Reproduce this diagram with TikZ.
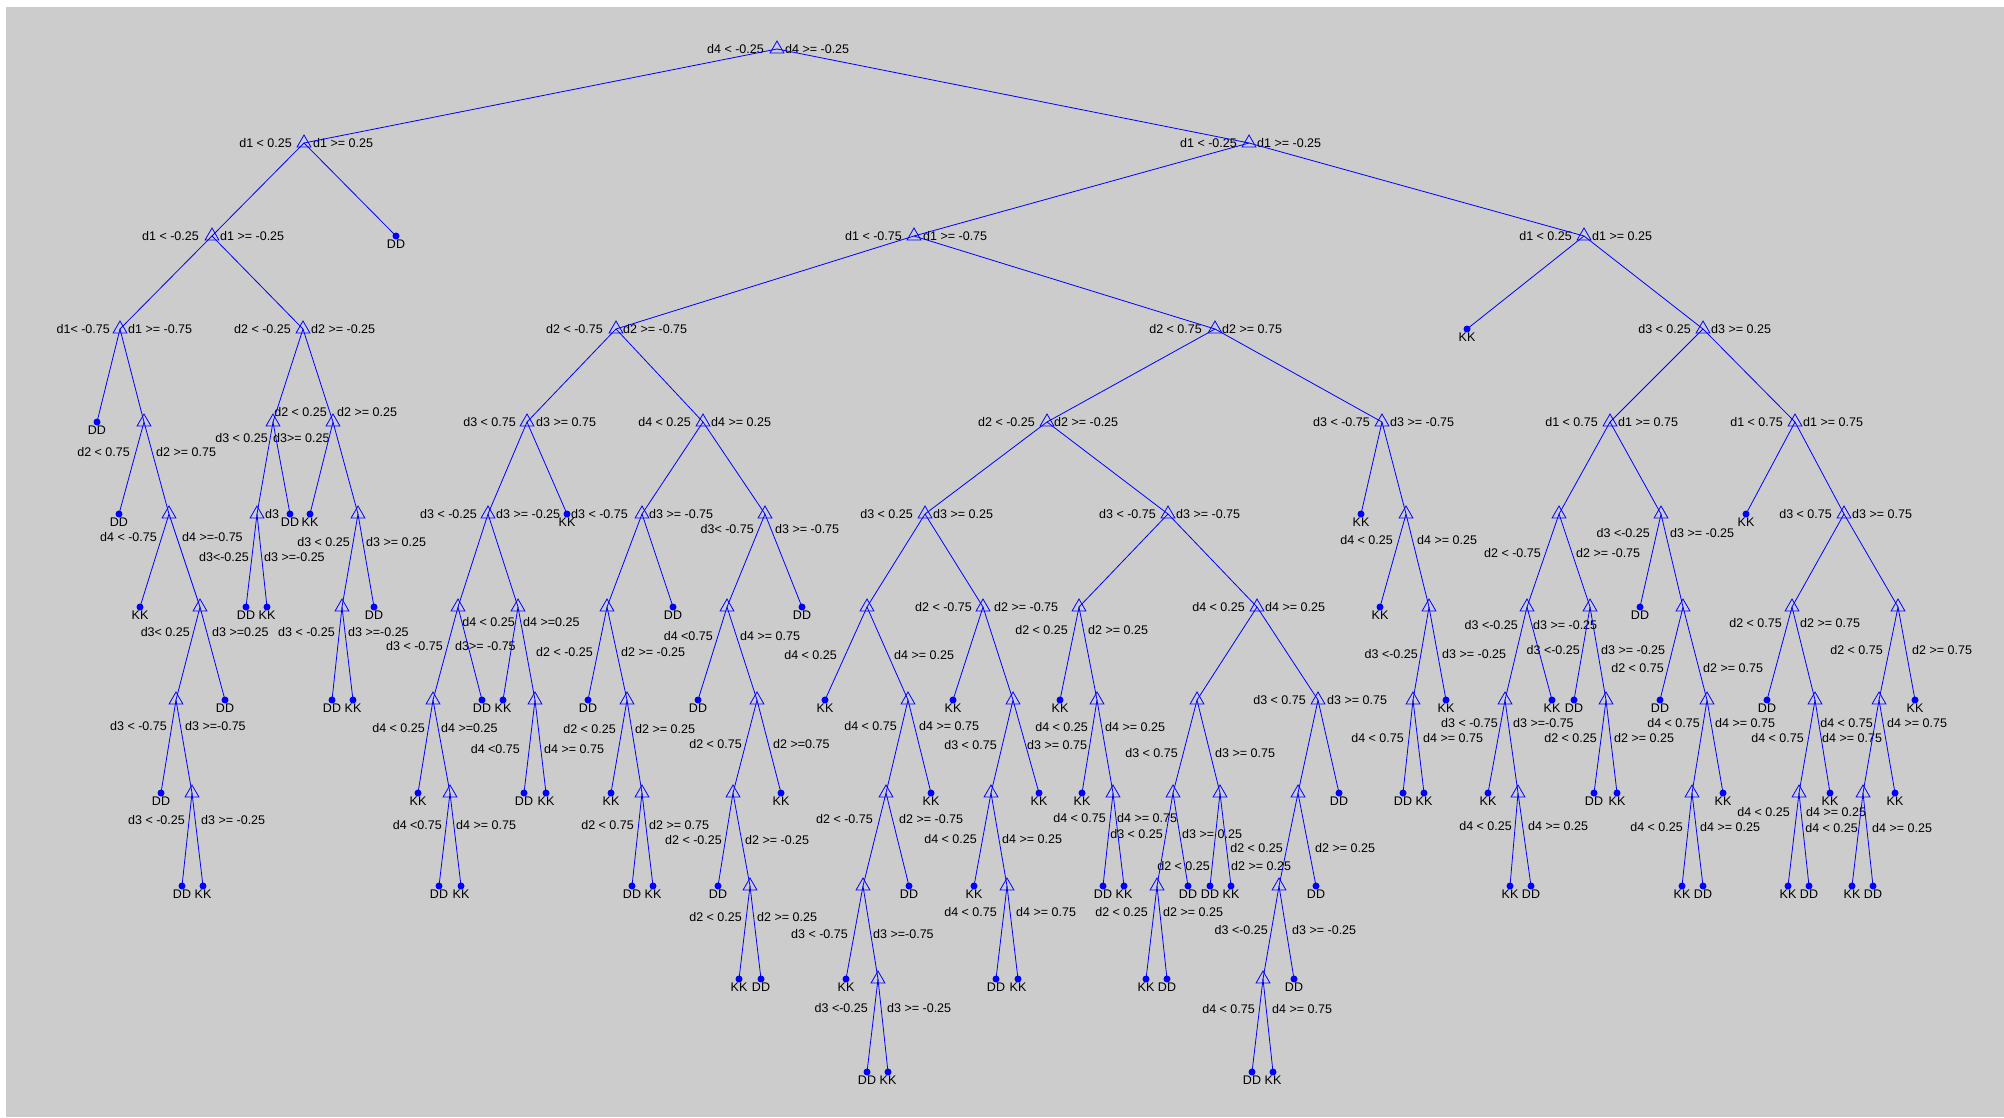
\documentclass[tikz,border=0pt]{standalone}
\usepackage{fontspec}
\setmainfont{Liberation Sans}
\usetikzlibrary{shapes.geometric}
\definecolor{panel}{RGB}{204,204,204}

\begin{document}
\begin{tikzpicture}[x=1pt, y=-1pt,
    split/.style={regular polygon, regular polygon sides=3, draw=blue, line width=0.8pt, minimum size=16pt, inner sep=0pt},
    leaf/.style={circle, fill=blue, minimum size=7pt, inner sep=0pt},
    cond/.style={font=\fontsize{12.5}{14}\selectfont, inner sep=0pt, text height=9pt, text depth=0pt},
    link/.style={blue, line width=0.8pt}]
\useasboundingbox (0,0) rectangle (2004,1117);
\fill[white] (0,0) rectangle (2004,1117);
\fill[panel] (6,7) rectangle (2004,1117);

% Nodes
\node[split] (r) at (777,49) {};
\node[cond, anchor=east] (rlt) at (764,49) {d4 < -0.25};
\node[cond, anchor=west] (rge) at (785,49) {d4 >= -0.25};

\node[split] (a) at (304,143) {};
\node[cond, anchor=east] (alt) at (292,143) {d1 < 0.25};
\node[cond, anchor=west] (age) at (313,143) {d1 >= 0.25};
\node[split] (b) at (1249,143) {};
\node[cond, anchor=east] (blt) at (1237,143) {d1 < -0.25};
\node[cond, anchor=west] (bge) at (1257,143) {d1 >= -0.25};

\node[split] (a1) at (212,236) {};
\node[cond, anchor=east] (a1lt) at (199,236) {d1 < -0.25};
\node[cond, anchor=west] (a1ge) at (220,236) {d1 >= -0.25};
\node[leaf, label={[cond, name=arc]below:DD}] (ar) at (396,236) {};
\node[split] (c) at (914,236) {};
\node[cond, anchor=east] (clt) at (902,236) {d1 < -0.75};
\node[cond, anchor=west] (cge) at (923,236) {d1 >= -0.75};
\node[split] (d) at (1584,236) {};
\node[cond, anchor=east] (dlt) at (1572,236) {d1 < 0.25};
\node[cond, anchor=west] (dge) at (1592,236) {d1 >= 0.25};

\node[split] (a11) at (120,329) {};
\node[cond, anchor=east] (a11lt) at (110,329) {d1< -0.75};
\node[cond, anchor=west] (a11ge) at (128,329) {d1 >= -0.75};
\node[split] (a12) at (303,329) {};
\node[cond, anchor=east] (a12lt) at (291,329) {d2 < -0.25};
\node[cond, anchor=west] (a12ge) at (311,329) {d2 >= -0.25};
\node[split] (c1) at (616,329) {};
\node[cond, anchor=east] (c1lt) at (603,329) {d2 < -0.75};
\node[cond, anchor=west] (c1ge) at (623,329) {d2 >= -0.75};
\node[split] (c2) at (1215,329) {};
\node[cond, anchor=east] (c2lt) at (1202,329) {d2 < 0.75};
\node[cond, anchor=west] (c2ge) at (1222,329) {d2 >= 0.75};
\node[leaf, label={[cond, name=dlc]below:KK}] (dl) at (1467,329) {};
\node[split] (d1) at (1703,329) {};
\node[cond, anchor=east] (d1lt) at (1691,329) {d3 < 0.25};
\node[cond, anchor=west] (d1ge) at (1711,329) {d3 >= 0.25};

\node[leaf, label={[cond, name=a11lc]below:DD}] (a11l) at (97,422) {};
\node[split] (n1) at (144,422) {};
\node[cond, anchor=east] (n1lt) at (130,452) {d2 < 0.75};
\node[cond, anchor=west] (n1ge) at (156,452) {d2 >= 0.75};
\node[split] (m1) at (273,422) {};
\node[cond, anchor=east] (m1lt) at (268,438) {d3 < 0.25};
\node[cond, anchor=west] (m1ge) at (273,438) {d3>= 0.25};
\node[split] (m2) at (333,422) {};
\node[cond, anchor=east] (m2lt) at (327,412) {d2 < 0.25};
\node[cond, anchor=west] (m2ge) at (337,412) {d2 >= 0.25};
\node[split] (e) at (527,422) {};
\node[cond, anchor=east] (elt) at (516,422) {d3 < 0.75};
\node[cond, anchor=west] (ege) at (536,422) {d3 >= 0.75};
\node[split] (f) at (703,422) {};
\node[cond, anchor=east] (flt) at (691,422) {d4 < 0.25};
\node[cond, anchor=west] (fge) at (711,422) {d4 >= 0.25};
\node[split] (g) at (1047,422) {};
\node[cond, anchor=east] (glt) at (1035,422) {d2 < -0.25};
\node[cond, anchor=west] (gge) at (1054,422) {d2 >= -0.25};
\node[split] (h) at (1382,422) {};
\node[cond, anchor=east] (hlt) at (1370,422) {d3 < -0.75};
\node[cond, anchor=west] (hge) at (1390,422) {d3 >= -0.75};
\node[split] (d2) at (1610,422) {};
\node[cond, anchor=east] (d2lt) at (1598,422) {d1 < 0.75};
\node[cond, anchor=west] (d2ge) at (1618,422) {d1 >= 0.75};
\node[split] (d3) at (1795,422) {};
\node[cond, anchor=east] (d3lt) at (1783,422) {d1 < 0.75};
\node[cond, anchor=west] (d3ge) at (1803,422) {d1 >= 0.75};

\node[leaf, label={[cond, name=n1lc]below:DD}] (n1l) at (119,514) {};
\node[split] (n2) at (169,514) {};
\node[cond, anchor=east] (n2lt) at (157,537) {d4 < -0.75};
\node[cond, anchor=west] (n2ge) at (182,537) {d4 >=-0.75};
\node[split] (m3) at (257,514) {};
\node[cond, anchor=east] (m3lt) at (249,557) {d3<-0.25};
\node[cond, anchor=west] (m3ge) at (264,557) {d3 >=-0.25};
\node[cond, anchor=west] (m3x) at (265,514) {d3};
\node[leaf, label={[cond, name=m1rc]below:DD}] (m1r) at (290,514) {};
\node[leaf, label={[cond, name=m2lc]below:KK}] (m2l) at (310,514) {};
\node[split] (m4) at (358,514) {};
\node[cond, anchor=east] (m4lt) at (350,542) {d3 < 0.25};
\node[cond, anchor=west] (m4ge) at (366,542) {d3 >= 0.25};
\node[split] (e1) at (488,514) {};
\node[cond, anchor=east] (e1lt) at (477,514) {d3 < -0.25};
\node[cond, anchor=west] (e1ge) at (496,514) {d3 >= -0.25};
\node[leaf, label={[cond, name=erc]below:KK}] (er) at (567,514) {};
\node[split] (f1) at (642,514) {};
\node[cond, anchor=east] (f1lt) at (628,514) {d3 < -0.75};
\node[cond, anchor=west] (f1ge) at (649,514) {d3 >= -0.75};
\node[split] (f5) at (765,514) {};
\node[cond, anchor=east] (f5lt) at (754,529) {d3< -0.75};
\node[cond, anchor=west] (f5ge) at (775,529) {d3 >= -0.75};
\node[split] (g1) at (925,514) {};
\node[cond, anchor=east] (g1lt) at (913,514) {d3 < 0.25};
\node[cond, anchor=west] (g1ge) at (933,514) {d3 >= 0.25};
\node[split] (g2) at (1168,514) {};
\node[cond, anchor=east] (g2lt) at (1156,514) {d3 < -0.75};
\node[cond, anchor=west] (g2ge) at (1176,514) {d3 >= -0.75};
\node[leaf, label={[cond, name=hlc]below:KK}] (hl) at (1361,514) {};
\node[split] (h1) at (1406,514) {};
\node[cond, anchor=east] (h1lt) at (1393,540) {d4 < 0.25};
\node[cond, anchor=west] (h1ge) at (1417,540) {d4 >= 0.25};
\node[split] (d4) at (1559,514) {};
\node[cond, anchor=east] (d4lt) at (1541,553) {d2 < -0.75};
\node[cond, anchor=west] (d4ge) at (1576,553) {d2 >= -0.75};
\node[split] (d5) at (1661,514) {};
\node[cond, anchor=east] (d5lt) at (1650,533) {d3 <-0.25};
\node[cond, anchor=west] (d5ge) at (1670,533) {d3 >= -0.25};
\node[leaf, label={[cond, name=d3lc]below:KK}] (d3l) at (1746,514) {};
\node[split] (d12) at (1844,514) {};
\node[cond, anchor=east] (d12lt) at (1832,514) {d3 < 0.75};
\node[cond, anchor=west] (d12ge) at (1852,514) {d3 >= 0.75};

\node[leaf, label={[cond, name=n2lc]below:KK}] (n2l) at (140,607) {};
\node[split] (n3) at (200,607) {};
\node[cond, anchor=east] (n3lt) at (190,632) {d3< 0.25};
\node[cond, anchor=west] (n3ge) at (212,632) {d3 >=0.25};
\node[leaf, label={[cond, name=m3lc]below:DD}] (m3l) at (246,607) {};
\node[leaf, label={[cond, name=m3rc]below:KK}] (m3r) at (267,607) {};
\node[split] (m5) at (342,607) {};
\node[cond, anchor=east] (m5lt) at (335,632) {d3 < -0.25};
\node[cond, anchor=west] (m5ge) at (348,632) {d3 >=-0.25};
\node[leaf, label={[cond, name=m4rc]below:DD}] (m4r) at (374,607) {};
\node[split] (e2) at (458,607) {};
\node[cond, anchor=east] (e2lt) at (443,646) {d3 < -0.75};
\node[cond, anchor=west] (e2ge) at (455,646) {d3>= -0.75};
\node[split] (e3) at (518,607) {};
\node[cond, anchor=east] (e3lt) at (515,622) {d4 < 0.25};
\node[cond, anchor=west] (e3ge) at (523,622) {d4 >=0.25};
\node[split] (f2) at (607,607) {};
\node[cond, anchor=east] (f2lt) at (593,652) {d2 < -0.25};
\node[cond, anchor=west] (f2ge) at (621,652) {d2 >= -0.25};
\node[leaf, label={[cond, name=f1rc]below:DD}] (f1r) at (673,607) {};
\node[split] (f6) at (727,607) {};
\node[cond, anchor=east] (f6lt) at (713,636) {d4 <0.75};
\node[cond, anchor=west] (f6ge) at (740,636) {d4 >= 0.75};
\node[leaf, label={[cond, name=f5rc]below:DD}] (f5r) at (802,607) {};
\node[split] (g3) at (867,607) {};
\node[cond, anchor=east] (g3lt) at (837,655) {d4 < 0.25};
\node[cond, anchor=west] (g3ge) at (894,655) {d4 >= 0.25};
\node[split] (g4) at (983,607) {};
\node[cond, anchor=east] (g4lt) at (972,607) {d2 < -0.75};
\node[cond, anchor=west] (g4ge) at (994,607) {d2 >= -0.75};
\node[split] (g7) at (1079,607) {};
\node[cond, anchor=east] (g7lt) at (1068,630) {d2 < 0.25};
\node[cond, anchor=west] (g7ge) at (1088,630) {d2 >= 0.25};
\node[split] (g11) at (1257,607) {};
\node[cond, anchor=east] (g11lt) at (1245,607) {d4 < 0.25};
\node[cond, anchor=west] (g11ge) at (1265,607) {d4 >= 0.25};
\node[leaf, label={[cond, name=h1lc]below:KK}] (h1l) at (1380,607) {};
\node[split] (h2) at (1429,607) {};
\node[cond, anchor=east] (h2lt) at (1418,654) {d3 <-0.25};
\node[cond, anchor=west] (h2ge) at (1442,654) {d3 >= -0.25};
\node[split] (d6) at (1527,607) {};
\node[cond, anchor=east] (d6lt) at (1518,625) {d3 <-0.25};
\node[cond, anchor=west] (d6ge) at (1533,625) {d3 >= -0.25};
\node[split] (d7) at (1590,607) {};
\node[cond, anchor=east] (d7lt) at (1580,650) {d3 <-0.25};
\node[cond, anchor=west] (d7ge) at (1601,650) {d3 >= -0.25};
\node[leaf, label={[cond, name=d5lc]below:DD}] (d5l) at (1640,607) {};
\node[split] (d10) at (1683,607) {};
\node[cond, anchor=east] (d10lt) at (1664,668) {d2 < 0.75};
\node[cond, anchor=west] (d10ge) at (1703,668) {d2 >= 0.75};
\node[split] (d13) at (1792,607) {};
\node[cond, anchor=east] (d13lt) at (1782,623) {d2 < 0.75};
\node[cond, anchor=west] (d13ge) at (1800,623) {d2 >= 0.75};
\node[split] (d16) at (1898,607) {};
\node[cond, anchor=east] (d16lt) at (1883,650) {d2 < 0.75};
\node[cond, anchor=west] (d16ge) at (1912,650) {d2 >= 0.75};

\node[split] (n4) at (176,700) {};
\node[cond, anchor=east] (n4lt) at (167,726) {d3 < -0.75};
\node[cond, anchor=west] (n4ge) at (185,726) {d3 >=-0.75};
\node[leaf, label={[cond, name=n3rc]below:DD}] (n3r) at (225,700) {};
\node[leaf, label={[cond, name=m5lc]below:DD}] (m5l) at (332,700) {};
\node[leaf, label={[cond, name=m5rc]below:KK}] (m5r) at (353,700) {};
\node[split] (e4) at (433,700) {};
\node[cond, anchor=east] (e4lt) at (425,728) {d4 < 0.25};
\node[cond, anchor=west] (e4ge) at (441,728) {d4 >=0.25};
\node[leaf, label={[cond, name=e2rc]below:DD}] (e2r) at (482,700) {};
\node[leaf, label={[cond, name=e3lc]below:KK}] (e3l) at (503,700) {};
\node[split] (e6) at (535,700) {};
\node[cond, anchor=east] (e6lt) at (520,749) {d4 <0.75};
\node[cond, anchor=west] (e6ge) at (544,749) {d4 >= 0.75};
\node[leaf, label={[cond, name=f2lc]below:DD}] (f2l) at (588,700) {};
\node[split] (f3) at (627,700) {};
\node[cond, anchor=east] (f3lt) at (616,729) {d2 < 0.25};
\node[cond, anchor=west] (f3ge) at (635,729) {d2 >= 0.25};
\node[leaf, label={[cond, name=f6lc]below:DD}] (f6l) at (698,700) {};
\node[split] (f7) at (757,700) {};
\node[cond, anchor=east] (f7lt) at (742,744) {d2 < 0.75};
\node[cond, anchor=west] (f7ge) at (773,744) {d2 >=0.75};
\node[leaf, label={[cond, name=g3lc]below:KK}] (g3l) at (825,700) {};
\node[split] (g5) at (908,700) {};
\node[cond, anchor=east] (g5lt) at (897,726) {d4 < 0.75};
\node[cond, anchor=west] (g5ge) at (919,726) {d4 >= 0.75};
\node[leaf, label={[cond, name=g4lc]below:KK}] (g4l) at (953,700) {};
\node[split] (g6) at (1013,700) {};
\node[cond, anchor=east] (g6lt) at (997,745) {d3 < 0.75};
\node[cond, anchor=west] (g6ge) at (1027,745) {d3 >= 0.75};
\node[leaf, label={[cond, name=g7lc]below:KK}] (g7l) at (1060,700) {};
\node[split] (g9) at (1097,700) {};
\node[cond, anchor=east] (g9lt) at (1088,727) {d4 < 0.25};
\node[cond, anchor=west] (g9ge) at (1105,727) {d4 >= 0.25};
\node[split] (g12) at (1197,700) {};
\node[cond, anchor=east] (g12lt) at (1178,753) {d3 < 0.75};
\node[cond, anchor=west] (g12ge) at (1215,753) {d3 >= 0.75};
\node[split] (g15) at (1318,700) {};
\node[cond, anchor=east] (g15lt) at (1306,700) {d3 < 0.75};
\node[cond, anchor=west] (g15ge) at (1327,700) {d3 >= 0.75};
\node[split] (h3) at (1413,700) {};
\node[cond, anchor=east] (h3lt) at (1404,738) {d4 < 0.75};
\node[cond, anchor=west] (h3ge) at (1423,738) {d4 >= 0.75};
\node[leaf, label={[cond, name=h2rc]below:KK}] (h2r) at (1446,700) {};
\node[split] (d8) at (1505,700) {};
\node[cond, anchor=east] (d8lt) at (1498,723) {d3 < -0.75};
\node[cond, anchor=west] (d8ge) at (1513,723) {d3 >=-0.75};
\node[leaf, label={[cond, name=d6rc]below:KK}] (d6r) at (1552,700) {};
\node[leaf, label={[cond, name=d7lc]below:DD}] (d7l) at (1574,700) {};
\node[split] (d9) at (1606,700) {};
\node[cond, anchor=east] (d9lt) at (1597,738) {d2 < 0.25};
\node[cond, anchor=west] (d9ge) at (1614,738) {d2 >= 0.25};
\node[leaf, label={[cond, name=d10lc]below:DD}] (d10l) at (1660,700) {};
\node[split] (d11) at (1707,700) {};
\node[cond, anchor=east] (d11lt) at (1700,723) {d4 < 0.75};
\node[cond, anchor=west] (d11ge) at (1715,723) {d4 >= 0.75};
\node[leaf, label={[cond, name=d13lc]below:DD}] (d13l) at (1767,700) {};
\node[split] (d14) at (1815,700) {};
\node[cond, anchor=east] (d14lt) at (1804,738) {d4 < 0.75};
\node[cond, anchor=west] (d14ge) at (1822,738) {d4 >= 0.75};
\node[split] (d15) at (1879,700) {};
\node[cond, anchor=east] (d15lt) at (1873,723) {d4 < 0.75};
\node[cond, anchor=west] (d15ge) at (1887,723) {d4 >= 0.75};
\node[leaf, label={[cond, name=d16rc]below:KK}] (d16r) at (1915,700) {};

\node[leaf, label={[cond, name=n4lc]below:DD}] (n4l) at (161,793) {};
\node[split] (n5) at (192,793) {};
\node[cond, anchor=east] (n5lt) at (185,820) {d3 < -0.25};
\node[cond, anchor=west] (n5ge) at (201,820) {d3 >= -0.25};
\node[leaf, label={[cond, name=e4lc]below:KK}] (e4l) at (418,793) {};
\node[split] (e5) at (450,793) {};
\node[cond, anchor=east] (e5lt) at (442,825) {d4 <0.75};
\node[cond, anchor=west] (e5ge) at (456,825) {d4 >= 0.75};
\node[leaf, label={[cond, name=e6lc]below:DD}] (e6l) at (524,793) {};
\node[leaf, label={[cond, name=e6rc]below:KK}] (e6r) at (546,793) {};
\node[leaf, label={[cond, name=f3lc]below:KK}] (f3l) at (611,793) {};
\node[split] (f4) at (642,793) {};
\node[cond, anchor=east] (f4lt) at (634,825) {d2 < 0.75};
\node[cond, anchor=west] (f4ge) at (649,825) {d2 >= 0.75};
\node[split] (f8) at (733,793) {};
\node[cond, anchor=east] (f8lt) at (722,840) {d2 < -0.25};
\node[cond, anchor=west] (f8ge) at (745,840) {d2 >= -0.25};
\node[leaf, label={[cond, name=f7rc]below:KK}] (f7r) at (781,793) {};
\node[split] (g51) at (886,793) {};
\node[cond, anchor=east] (g51lt) at (873,819) {d2 < -0.75};
\node[cond, anchor=west] (g51ge) at (899,819) {d2 >= -0.75};
\node[leaf, label={[cond, name=g5rc]below:KK}] (g5r) at (931,793) {};
\node[split] (g8) at (991,793) {};
\node[cond, anchor=east] (g8lt) at (977,839) {d4 < 0.25};
\node[cond, anchor=west] (g8ge) at (1002,839) {d4 >= 0.25};
\node[leaf, label={[cond, name=g6rc]below:KK}] (g6r) at (1039,793) {};
\node[leaf, label={[cond, name=g9lc]below:KK}] (g9l) at (1082,793) {};
\node[split] (g10) at (1113,793) {};
\node[cond, anchor=east] (g10lt) at (1106,818) {d4 < 0.75};
\node[cond, anchor=west] (g10ge) at (1117,818) {d4 >= 0.75};
\node[split] (g13) at (1173,793) {};
\node[cond, anchor=east] (g13lt) at (1163,834) {d3 < 0.25};
\node[cond, anchor=west] (g13ge) at (1182,834) {d3 >= 0.25};
\node[split] (g14) at (1220,793) {};
\node[cond, anchor=east] (g14lt) at (1210,866) {d2 < 0.25};
\node[cond, anchor=west] (g14ge) at (1231,866) {d2 >= 0.25};
\node[split] (g16) at (1298,793) {};
\node[cond, anchor=east] (g16lt) at (1283,848) {d2 < 0.25};
\node[cond, anchor=west] (g16ge) at (1315,848) {d2 >= 0.25};
\node[leaf, label={[cond, name=g15rc]below:DD}] (g15r) at (1339,793) {};
\node[leaf, label={[cond, name=h3lc]below:DD}] (h3l) at (1403,793) {};
\node[leaf, label={[cond, name=h3rc]below:KK}] (h3r) at (1424,793) {};
\node[leaf, label={[cond, name=d8lc]below:KK}] (d8l) at (1488,793) {};
\node[split] (d81) at (1518,793) {};
\node[cond, anchor=east] (d81lt) at (1512,826) {d4 < 0.25};
\node[cond, anchor=west] (d81ge) at (1528,826) {d4 >= 0.25};
\node[leaf, label={[cond, name=d9lc]below:DD}] (d9l) at (1594,793) {};
\node[leaf, label={[cond, name=d9rc]below:KK}] (d9r) at (1617,793) {};
\node[split] (d111) at (1692,793) {};
\node[cond, anchor=east] (d111lt) at (1683,827) {d4 < 0.25};
\node[cond, anchor=west] (d111ge) at (1700,827) {d4 >= 0.25};
\node[leaf, label={[cond, name=d11rc]below:KK}] (d11r) at (1723,793) {};
\node[split] (d141) at (1799,793) {};
\node[cond, anchor=east] (d141lt) at (1790,812) {d4 < 0.25};
\node[cond, anchor=west] (d141ge) at (1806,812) {d4 >= 0.25};
\node[leaf, label={[cond, name=d14rc]below:KK}] (d14r) at (1830,793) {};
\node[split] (d151) at (1863,793) {};
\node[cond, anchor=east] (d151lt) at (1858,828) {d4 < 0.25};
\node[cond, anchor=west] (d151ge) at (1872,828) {d4 >= 0.25};
\node[leaf, label={[cond, name=d15rc]below:KK}] (d15r) at (1895,793) {};

\node[leaf, label={[cond, name=n5lc]below:DD}] (n5l) at (182,886) {};
\node[leaf, label={[cond, name=n5rc]below:KK}] (n5r) at (203,886) {};
\node[leaf, label={[cond, name=e5lc]below:DD}] (e5l) at (439,886) {};
\node[leaf, label={[cond, name=e5rc]below:KK}] (e5r) at (461,886) {};
\node[leaf, label={[cond, name=f4lc]below:DD}] (f4l) at (632,886) {};
\node[leaf, label={[cond, name=f4rc]below:KK}] (f4r) at (653,886) {};
\node[leaf, label={[cond, name=f8lc]below:DD}] (f8l) at (718,886) {};
\node[split] (f9) at (750,886) {};
\node[cond, anchor=east] (f9lt) at (742,917) {d2 < 0.25};
\node[cond, anchor=west] (f9ge) at (757,917) {d2 >= 0.25};
\node[split] (g52) at (863,886) {};
\node[cond, anchor=east] (g52lt) at (848,934) {d3 < -0.75};
\node[cond, anchor=west] (g52ge) at (873,934) {d3 >=-0.75};
\node[leaf, label={[cond, name=g51rc]below:DD}] (g51r) at (909,886) {};
\node[leaf, label={[cond, name=g8lc]below:KK}] (g8l) at (974,886) {};
\node[split] (g81) at (1007,886) {};
\node[cond, anchor=east] (g81lt) at (997,912) {d4 < 0.75};
\node[cond, anchor=west] (g81ge) at (1016,912) {d4 >= 0.75};
\node[leaf, label={[cond, name=g10lc]below:DD}] (g10l) at (1103,886) {};
\node[leaf, label={[cond, name=g10rc]below:KK}] (g10r) at (1124,886) {};
\node[split] (g131) at (1157,886) {};
\node[cond, anchor=east] (g131lt) at (1148,912) {d2 < 0.25};
\node[cond, anchor=west] (g131ge) at (1163,912) {d2 >= 0.25};
\node[leaf, label={[cond, name=g13rc]below:DD}] (g13r) at (1188,886) {};
\node[leaf, label={[cond, name=g14lc]below:DD}] (g14l) at (1210,886) {};
\node[leaf, label={[cond, name=g14rc]below:KK}] (g14r) at (1231,886) {};
\node[split] (g17) at (1279,886) {};
\node[cond, anchor=east] (g17lt) at (1268,930) {d3 <-0.25};
\node[cond, anchor=west] (g17ge) at (1292,930) {d3 >= -0.25};
\node[leaf, label={[cond, name=g16rc]below:DD}] (g16r) at (1316,886) {};
\node[leaf, label={[cond, name=d81lc]below:KK}] (d81l) at (1510,886) {};
\node[leaf, label={[cond, name=d81rc]below:DD}] (d81r) at (1531,886) {};
\node[leaf, label={[cond, name=d111lc]below:KK}] (d111l) at (1682,886) {};
\node[leaf, label={[cond, name=d111rc]below:DD}] (d111r) at (1703,886) {};
\node[leaf, label={[cond, name=d141lc]below:KK}] (d141l) at (1788,886) {};
\node[leaf, label={[cond, name=d141rc]below:DD}] (d141r) at (1809,886) {};
\node[leaf, label={[cond, name=d151lc]below:KK}] (d151l) at (1852,886) {};
\node[leaf, label={[cond, name=d151rc]below:DD}] (d151r) at (1873,886) {};

\node[leaf, label={[cond, name=f9lc]below:KK}] (f9l) at (739,979) {};
\node[leaf, label={[cond, name=f9rc]below:DD}] (f9r) at (761,979) {};
\node[leaf, label={[cond, name=g52lc]below:KK}] (g52l) at (846,979) {};
\node[split] (g53) at (878,979) {};
\node[cond, anchor=east] (g53lt) at (868,1008) {d3 <-0.25};
\node[cond, anchor=west] (g53ge) at (887,1008) {d3 >= -0.25};
\node[leaf, label={[cond, name=g81lc]below:DD}] (g81l) at (996,979) {};
\node[leaf, label={[cond, name=g81rc]below:KK}] (g81r) at (1018,979) {};
\node[leaf, label={[cond, name=g131lc]below:KK}] (g131l) at (1146,979) {};
\node[leaf, label={[cond, name=g131rc]below:DD}] (g131r) at (1167,979) {};
\node[split] (g18) at (1263,979) {};
\node[cond, anchor=east] (g18lt) at (1255,1009) {d4 < 0.75};
\node[cond, anchor=west] (g18ge) at (1272,1009) {d4 >= 0.75};
\node[leaf, label={[cond, name=g17rc]below:DD}] (g17r) at (1294,979) {};

\node[leaf, label={[cond, name=g53lc]below:DD}] (g53l) at (867,1072) {};
\node[leaf, label={[cond, name=g53rc]below:KK}] (g53r) at (888,1072) {};
\node[leaf, label={[cond, name=g18lc]below:DD}] (g18l) at (1252,1072) {};
\node[leaf, label={[cond, name=g18rc]below:KK}] (g18r) at (1273,1072) {};

% Edges
\draw[link] (r.center) -- (a.center);
\draw[link] (r.center) -- (b.center);
\draw[link] (a.center) -- (a1.center);
\draw[link] (a.center) -- (ar.center);
\draw[link] (a1.center) -- (a11.center);
\draw[link] (a1.center) -- (a12.center);
\draw[link] (a11.center) -- (a11l.center);
\draw[link] (a11.center) -- (n1.center);
\draw[link] (n1.center) -- (n1l.center);
\draw[link] (n1.center) -- (n2.center);
\draw[link] (n2.center) -- (n2l.center);
\draw[link] (n2.center) -- (n3.center);
\draw[link] (n3.center) -- (n4.center);
\draw[link] (n3.center) -- (n3r.center);
\draw[link] (n4.center) -- (n4l.center);
\draw[link] (n4.center) -- (n5.center);
\draw[link] (n5.center) -- (n5l.center);
\draw[link] (n5.center) -- (n5r.center);
\draw[link] (a12.center) -- (m1.center);
\draw[link] (a12.center) -- (m2.center);
\draw[link] (m1.center) -- (m3.center);
\draw[link] (m1.center) -- (m1r.center);
\draw[link] (m3.center) -- (m3l.center);
\draw[link] (m3.center) -- (m3r.center);
\draw[link] (m2.center) -- (m2l.center);
\draw[link] (m2.center) -- (m4.center);
\draw[link] (m4.center) -- (m5.center);
\draw[link] (m4.center) -- (m4r.center);
\draw[link] (m5.center) -- (m5l.center);
\draw[link] (m5.center) -- (m5r.center);
\draw[link] (b.center) -- (c.center);
\draw[link] (b.center) -- (d.center);
\draw[link] (c.center) -- (c1.center);
\draw[link] (c.center) -- (c2.center);
\draw[link] (c1.center) -- (e.center);
\draw[link] (c1.center) -- (f.center);
\draw[link] (e.center) -- (e1.center);
\draw[link] (e.center) -- (er.center);
\draw[link] (e1.center) -- (e2.center);
\draw[link] (e1.center) -- (e3.center);
\draw[link] (e2.center) -- (e4.center);
\draw[link] (e2.center) -- (e2r.center);
\draw[link] (e4.center) -- (e4l.center);
\draw[link] (e4.center) -- (e5.center);
\draw[link] (e5.center) -- (e5l.center);
\draw[link] (e5.center) -- (e5r.center);
\draw[link] (e3.center) -- (e3l.center);
\draw[link] (e3.center) -- (e6.center);
\draw[link] (e6.center) -- (e6l.center);
\draw[link] (e6.center) -- (e6r.center);
\draw[link] (f.center) -- (f1.center);
\draw[link] (f.center) -- (f5.center);
\draw[link] (f1.center) -- (f2.center);
\draw[link] (f1.center) -- (f1r.center);
\draw[link] (f2.center) -- (f2l.center);
\draw[link] (f2.center) -- (f3.center);
\draw[link] (f3.center) -- (f3l.center);
\draw[link] (f3.center) -- (f4.center);
\draw[link] (f4.center) -- (f4l.center);
\draw[link] (f4.center) -- (f4r.center);
\draw[link] (f5.center) -- (f6.center);
\draw[link] (f5.center) -- (f5r.center);
\draw[link] (f6.center) -- (f6l.center);
\draw[link] (f6.center) -- (f7.center);
\draw[link] (f7.center) -- (f8.center);
\draw[link] (f7.center) -- (f7r.center);
\draw[link] (f8.center) -- (f8l.center);
\draw[link] (f8.center) -- (f9.center);
\draw[link] (f9.center) -- (f9l.center);
\draw[link] (f9.center) -- (f9r.center);
\draw[link] (c2.center) -- (g.center);
\draw[link] (c2.center) -- (h.center);
\draw[link] (g.center) -- (g1.center);
\draw[link] (g.center) -- (g2.center);
\draw[link] (g1.center) -- (g3.center);
\draw[link] (g1.center) -- (g4.center);
\draw[link] (g3.center) -- (g3l.center);
\draw[link] (g3.center) -- (g5.center);
\draw[link] (g5.center) -- (g51.center);
\draw[link] (g5.center) -- (g5r.center);
\draw[link] (g51.center) -- (g52.center);
\draw[link] (g51.center) -- (g51r.center);
\draw[link] (g52.center) -- (g52l.center);
\draw[link] (g52.center) -- (g53.center);
\draw[link] (g53.center) -- (g53l.center);
\draw[link] (g53.center) -- (g53r.center);
\draw[link] (g4.center) -- (g4l.center);
\draw[link] (g4.center) -- (g6.center);
\draw[link] (g6.center) -- (g8.center);
\draw[link] (g6.center) -- (g6r.center);
\draw[link] (g8.center) -- (g8l.center);
\draw[link] (g8.center) -- (g81.center);
\draw[link] (g81.center) -- (g81l.center);
\draw[link] (g81.center) -- (g81r.center);
\draw[link] (g2.center) -- (g7.center);
\draw[link] (g2.center) -- (g11.center);
\draw[link] (g7.center) -- (g7l.center);
\draw[link] (g7.center) -- (g9.center);
\draw[link] (g9.center) -- (g9l.center);
\draw[link] (g9.center) -- (g10.center);
\draw[link] (g10.center) -- (g10l.center);
\draw[link] (g10.center) -- (g10r.center);
\draw[link] (g11.center) -- (g12.center);
\draw[link] (g11.center) -- (g15.center);
\draw[link] (g12.center) -- (g13.center);
\draw[link] (g12.center) -- (g14.center);
\draw[link] (g13.center) -- (g131.center);
\draw[link] (g13.center) -- (g13r.center);
\draw[link] (g131.center) -- (g131l.center);
\draw[link] (g131.center) -- (g131r.center);
\draw[link] (g14.center) -- (g14l.center);
\draw[link] (g14.center) -- (g14r.center);
\draw[link] (g15.center) -- (g16.center);
\draw[link] (g15.center) -- (g15r.center);
\draw[link] (g16.center) -- (g17.center);
\draw[link] (g16.center) -- (g16r.center);
\draw[link] (g17.center) -- (g18.center);
\draw[link] (g17.center) -- (g17r.center);
\draw[link] (g18.center) -- (g18l.center);
\draw[link] (g18.center) -- (g18r.center);
\draw[link] (h.center) -- (hl.center);
\draw[link] (h.center) -- (h1.center);
\draw[link] (h1.center) -- (h1l.center);
\draw[link] (h1.center) -- (h2.center);
\draw[link] (h2.center) -- (h3.center);
\draw[link] (h2.center) -- (h2r.center);
\draw[link] (h3.center) -- (h3l.center);
\draw[link] (h3.center) -- (h3r.center);
\draw[link] (d.center) -- (dl.center);
\draw[link] (d.center) -- (d1.center);
\draw[link] (d1.center) -- (d2.center);
\draw[link] (d1.center) -- (d3.center);
\draw[link] (d2.center) -- (d4.center);
\draw[link] (d2.center) -- (d5.center);
\draw[link] (d4.center) -- (d6.center);
\draw[link] (d4.center) -- (d7.center);
\draw[link] (d6.center) -- (d8.center);
\draw[link] (d6.center) -- (d6r.center);
\draw[link] (d8.center) -- (d8l.center);
\draw[link] (d8.center) -- (d81.center);
\draw[link] (d81.center) -- (d81l.center);
\draw[link] (d81.center) -- (d81r.center);
\draw[link] (d7.center) -- (d7l.center);
\draw[link] (d7.center) -- (d9.center);
\draw[link] (d9.center) -- (d9l.center);
\draw[link] (d9.center) -- (d9r.center);
\draw[link] (d5.center) -- (d5l.center);
\draw[link] (d5.center) -- (d10.center);
\draw[link] (d10.center) -- (d10l.center);
\draw[link] (d10.center) -- (d11.center);
\draw[link] (d11.center) -- (d111.center);
\draw[link] (d11.center) -- (d11r.center);
\draw[link] (d111.center) -- (d111l.center);
\draw[link] (d111.center) -- (d111r.center);
\draw[link] (d3.center) -- (d3l.center);
\draw[link] (d3.center) -- (d12.center);
\draw[link] (d12.center) -- (d13.center);
\draw[link] (d12.center) -- (d16.center);
\draw[link] (d13.center) -- (d13l.center);
\draw[link] (d13.center) -- (d14.center);
\draw[link] (d14.center) -- (d141.center);
\draw[link] (d14.center) -- (d14r.center);
\draw[link] (d141.center) -- (d141l.center);
\draw[link] (d141.center) -- (d141r.center);
\draw[link] (d16.center) -- (d15.center);
\draw[link] (d16.center) -- (d16r.center);
\draw[link] (d15.center) -- (d151.center);
\draw[link] (d15.center) -- (d15r.center);
\draw[link] (d151.center) -- (d151l.center);
\draw[link] (d151.center) -- (d151r.center);
\end{tikzpicture}
\end{document}
